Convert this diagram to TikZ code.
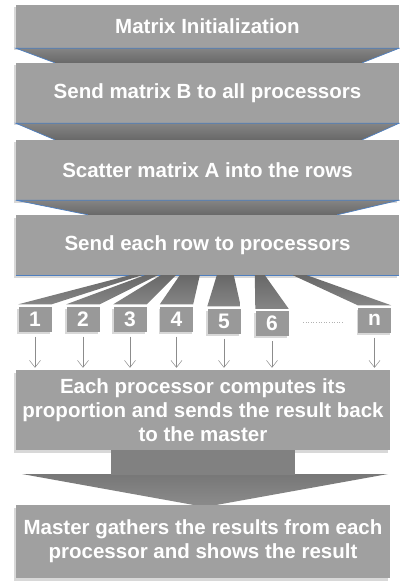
\documentclass[tikz,border=0pt]{standalone}
\usepackage{fontspec}
\setmainfont{Liberation Sans}
\usetikzlibrary{shadows,arrows.meta,calc}
\definecolor{boxgray}{HTML}{A0A0A0}
\definecolor{numgray}{HTML}{999999}
\definecolor{edgeblue}{HTML}{4F7FBF}
\definecolor{trapdark}{HTML}{686868}
\definecolor{traplight}{HTML}{858585}
\definecolor{arrgray}{HTML}{8C8C8C}
\begin{document}
\begin{tikzpicture}[x=1pt,y=-1pt,
  stepbox/.style={fill=boxgray, inner sep=0pt, text=white, align=center,
    font=\bfseries\fontsize{20.5}{24}\selectfont,
    drop shadow={shadow xshift=-2pt,shadow yshift=-2.5pt,opacity=.28,fill=black!55}},
  numbox/.style={fill=numgray, inner sep=0pt, text=white,
    minimum width=33pt, minimum height=25pt,
    font=\bfseries\fontsize{21}{24}\selectfont,
    drop shadow={shadow xshift=-1.5pt,shadow yshift=-2pt,opacity=.28,fill=black!55}},
  trap/.style={top color=traplight, bottom color=trapdark},
  blueline/.style={draw=edgeblue, line width=0.7pt},
  strip/.style={top color=trapdark, bottom color=traplight},
  thinarrow/.style={draw=black!45, line width=0.5pt,
    -{Straight Barb[length=7pt,width=11pt,line width=0.5pt]}, shorten >=2pt}
]
\useasboundingbox (0,0) rectangle (399,585);

% main boxes
\node[stepbox, minimum width=383pt, minimum height=43pt] (b1) at (207.5,26.5) {Matrix Initialization};
\node[stepbox, minimum width=383pt, minimum height=60pt] (b2) at (207.5,93) {Send matrix B to all processors};
\node[stepbox, minimum width=383pt, minimum height=60pt] (b3) at (207.5,170) {Scatter matrix A into the rows};
\node[stepbox, minimum width=383pt, minimum height=60pt] (b4) at (207.5,245) {Send each row to processors};

% trapezoid connectors
\shade[trap] (b1.south west) -- (b1.south east) -- ([xshift=-37pt]b2.north east) -- ([xshift=39pt]b2.north west) -- cycle;
\draw[blueline] ([xshift=39pt]b2.north west) -- (b1.south west) -- (b1.south east) -- ([xshift=-37pt]b2.north east);
\shade[trap] (b2.south west) -- (b2.south east) -- ([xshift=-37pt]b3.north east) -- ([xshift=39pt]b3.north west) -- cycle;
\draw[blueline] ([xshift=39pt]b3.north west) -- (b2.south west) -- (b2.south east) -- ([xshift=-37pt]b3.north east);
\shade[trap] (b3.south west) -- (b3.south east) -- ([xshift=-62pt]b4.north east) -- ([xshift=72pt]b4.north west) -- cycle;
\draw[blueline] ([xshift=72pt]b4.north west) -- (b3.south west) -- (b3.south east) -- ([xshift=-62pt]b4.north east);
\draw[blueline] (b4.south west) -- (b4.south east);

% processor boxes
\node[numbox] (n1) at (35,319) {1};
\node[numbox] (n2) at (83,319) {2};
\node[numbox] (n3) at (130,319) {3};
\node[numbox] (n4) at (176.5,319) {4};
\node[numbox] (n5) at (224,321) {5};
\node[numbox] (n6) at (272,323.5) {6};
\node[numbox] (nn) at (374.5,320) {n};
\draw[black!30, line width=0.6pt, dotted] (303,322) -- (343,322);

% fan strips
\shade[strip] ([xshift=114pt]b4.south west) -- ([xshift=126pt]b4.south west) -- ([yshift=2pt]n1.north east) -- ([yshift=2pt]n1.north west) -- cycle;
\shade[strip] ([xshift=129pt]b4.south west) -- ([xshift=142pt]b4.south west) -- ([yshift=2pt]n2.north east) -- ([yshift=2pt]n2.north west) -- cycle;
\shade[strip] ([xshift=145pt]b4.south west) -- ([xshift=160pt]b4.south west) -- ([yshift=2pt]n3.north east) -- ([yshift=2pt]n3.north west) -- cycle;
\shade[strip] ([xshift=164pt]b4.south west) -- ([xshift=184pt]b4.south west) -- ([yshift=2pt]n4.north east) -- ([yshift=2pt]n4.north west) -- cycle;
\shade[strip] ([xshift=201pt]b4.south west) -- ([xshift=218pt]b4.south west) -- ([yshift=2pt]n5.north east) -- ([yshift=2pt]n5.north west) -- cycle;
\shade[strip] ([xshift=239pt]b4.south west) -- ([xshift=249pt]b4.south west) -- ([yshift=2pt]n6.north east) -- ([yshift=2pt]n6.north west) -- cycle;
\shade[strip] ([xshift=277pt]b4.south west) -- ([xshift=291pt]b4.south west) -- ([yshift=2pt]nn.north east) -- ([yshift=2pt]nn.north west) -- cycle;

% result boxes
\node[stepbox, minimum width=374pt, minimum height=80pt] (b5) at (203,410)
  {Each processor computes its\\proportion and sends the result back\\to the master};

% arrows to b5
\foreach \n in {n1,n2,n3,n4,n5,n6,nn}{
  \draw[thinarrow] ([yshift=-5pt]\n.south) -- (\n.south |- b5.north);
}

% big arrow
\coordinate (sl) at ([xshift=-92pt]b5.south);
\coordinate (sr) at ([xshift=92pt]b5.south);
\coordinate (tip) at (205,507);
\shade[top color=arrgray!85!black, bottom color=arrgray] (22,474) -- (388,474) -- (tip) -- cycle;
\fill[arrgray!92!black] (sl) -- (sl |- 0,474.5) -- (sr |- 0,474.5) -- (sr) -- cycle;

\node[stepbox, minimum width=374pt, minimum height=73pt] (b6) at (203,541.5)
  {Master gathers the results from each\\processor and shows the result};
\end{tikzpicture}
\end{document}
